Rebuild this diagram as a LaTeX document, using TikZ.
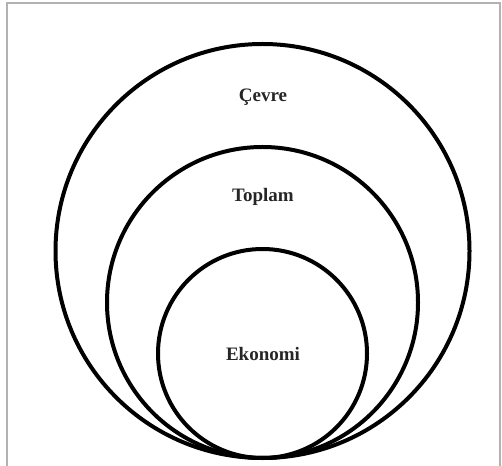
\documentclass[tikz,border=0pt]{standalone}
\usepackage{fontspec}
\setmainfont{Liberation Serif}
\begin{document}
\begin{tikzpicture}[x=1pt,y=1pt,
  ring/.style={circle,draw=black,line width=4pt,inner sep=0pt},
  lbl/.style={font=\fontsize{19}{21}\selectfont\bfseries,text=black!85}]
\useasboundingbox (0,0) rectangle (502,465);
\draw[draw=black!30,line width=1.2pt] (7,-5) -- (7,462) -- (500,462) -- (500,-5);
\node[ring,minimum size=414pt] (outer) at (262.5,214) {};
\node[ring,minimum size=311pt] (middle) at (262.5,162.5) {};
\node[ring,minimum size=209pt] (inner) at (262.5,111.5) {};
\node[lbl] (cevre) at (263,368) {Çevre};
\node[lbl] (toplam) at (263,268) {Toplam};
\node[lbl] (ekonomi) at (263,111) {Ekonomi};
\end{tikzpicture}
\end{document}
